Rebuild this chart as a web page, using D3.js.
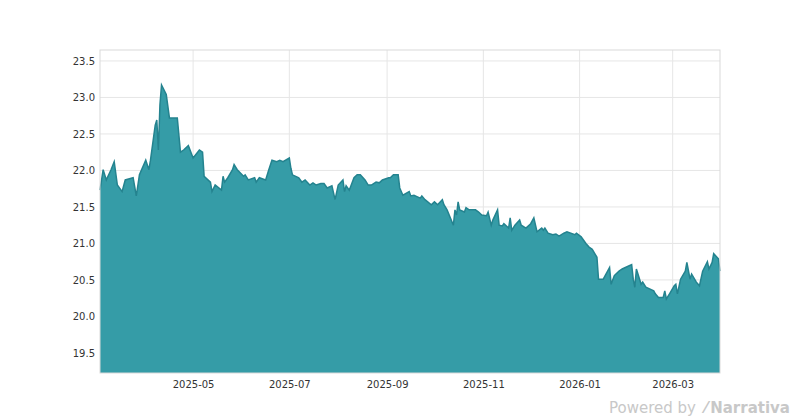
<!DOCTYPE html>
<html><head><meta charset="utf-8">
<script src="https://cdn.jsdelivr.net/npm/d3@7"></script>
<style>body{margin:0;background:#fff}text{font-family:"DejaVu Sans",sans-serif}</style>
</head><body><svg id="c" width="800" height="420"></svg>
<script>
const dates=["2025-03-03","2025-03-05","2025-03-07","2025-03-10","2025-03-12","2025-03-14","2025-03-17","2025-03-19","2025-03-24","2025-03-26","2025-03-28","2025-04-01","2025-04-03","2025-04-04","2025-04-07","2025-04-08","2025-04-09","2025-04-10","2025-04-11","2025-04-14","2025-04-16","2025-04-21","2025-04-23","2025-04-25","2025-04-28","2025-05-01","2025-05-05","2025-05-07","2025-05-08","2025-05-12","2025-05-13","2025-05-15","2025-05-19","2025-05-20","2025-05-21","2025-05-23","2025-05-26","2025-05-27","2025-05-29","2025-06-02","2025-06-03","2025-06-05","2025-06-09","2025-06-10","2025-06-12","2025-06-16","2025-06-18","2025-06-20","2025-06-23","2025-06-25","2025-06-27","2025-07-01","2025-07-02","2025-07-03","2025-07-07","2025-07-09","2025-07-11","2025-07-14","2025-07-16","2025-07-18","2025-07-21","2025-07-23","2025-07-25","2025-07-28","2025-07-30","2025-08-01","2025-08-04","2025-08-05","2025-08-06","2025-08-08","2025-08-11","2025-08-13","2025-08-15","2025-08-18","2025-08-20","2025-08-22","2025-08-25","2025-08-27","2025-08-29","2025-09-02","2025-09-03","2025-09-05","2025-09-08","2025-09-09","2025-09-11","2025-09-15","2025-09-16","2025-09-18","2025-09-22","2025-09-23","2025-09-25","2025-09-29","2025-10-01","2025-10-03","2025-10-06","2025-10-07","2025-10-09","2025-10-13","2025-10-14","2025-10-15","2025-10-16","2025-10-17","2025-10-20","2025-10-21","2025-10-23","2025-10-27","2025-10-29","2025-10-31","2025-11-03","2025-11-04","2025-11-06","2025-11-07","2025-11-10","2025-11-11","2025-11-13","2025-11-14","2025-11-17","2025-11-18","2025-11-19","2025-11-21","2025-11-24","2025-11-25","2025-11-28","2025-12-01","2025-12-03","2025-12-05","2025-12-08","2025-12-09","2025-12-10","2025-12-12","2025-12-15","2025-12-17","2025-12-19","2025-12-22","2025-12-24","2025-12-29","2025-12-30","2026-01-02","2026-01-05","2026-01-07","2026-01-09","2026-01-12","2026-01-13","2026-01-16","2026-01-20","2026-01-21","2026-01-23","2026-01-26","2026-01-28","2026-01-30","2026-02-03","2026-02-04","2026-02-05","2026-02-06","2026-02-09","2026-02-10","2026-02-12","2026-02-17","2026-02-18","2026-02-20","2026-02-23","2026-02-24","2026-02-25","2026-02-27","2026-03-02","2026-03-03","2026-03-04","2026-03-06","2026-03-09","2026-03-10","2026-03-12","2026-03-13","2026-03-16","2026-03-18","2026-03-20","2026-03-23","2026-03-24","2026-03-26","2026-03-27","2026-03-30","2026-03-31"];
const values=[21.73,22.01,21.87,22.01,22.12,21.80,21.71,21.87,21.90,21.65,21.94,22.14,22.01,22.14,22.62,22.69,22.28,22.90,23.17,23.04,22.72,22.72,22.25,22.28,22.34,22.17,22.28,22.25,21.92,21.84,21.71,21.80,21.73,21.92,21.84,21.90,22.01,22.08,22.01,21.92,21.94,21.87,21.90,21.84,21.90,21.87,22.01,22.14,22.12,22.14,22.12,22.17,22.03,21.94,21.90,21.84,21.87,21.80,21.83,21.80,21.82,21.82,21.76,21.79,21.60,21.80,21.87,21.71,21.79,21.73,21.90,21.94,21.94,21.87,21.80,21.80,21.84,21.83,21.87,21.90,21.90,21.94,21.94,21.76,21.66,21.71,21.65,21.66,21.62,21.65,21.60,21.53,21.57,21.53,21.60,21.53,21.46,21.25,21.46,21.39,21.57,21.46,21.43,21.49,21.46,21.46,21.43,21.39,21.38,21.43,21.25,21.32,21.46,21.25,21.24,21.27,21.21,21.35,21.18,21.25,21.32,21.25,21.21,21.27,21.35,21.16,21.21,21.18,21.21,21.14,21.12,21.13,21.10,21.14,21.16,21.12,21.14,21.09,21.00,20.95,20.92,20.81,20.51,20.51,20.67,20.44,20.56,20.62,20.65,20.67,20.71,20.51,20.40,20.65,20.44,20.47,20.40,20.35,20.31,20.26,20.26,20.35,20.24,20.31,20.42,20.44,20.31,20.51,20.62,20.74,20.51,20.58,20.47,20.42,20.62,20.75,20.65,20.74,20.86,20.79,20.62];
const yTicks=[19.5,20.0,20.5,21.0,21.5,22.0,22.5,23.0,23.5];
const xTicks=["2025-05-01","2025-07-01","2025-09-01","2025-11-01","2026-01-01","2026-03-01"];

const p=d3.timeParse("%Y-%m-%d");
const data=dates.map((d,i)=>({d:p(d),v:values[i]}));
const L=100,R=720,T=50,B=373;
const x=d3.scaleTime().domain([p("2025-03-03"),p("2026-03-31")]).range([L,R]);
const y=d3.scaleLinear().domain([19.225,23.65]).range([B,T]);
const svg=d3.select("#c");
const g=svg.append("g");
g.selectAll(".gy").data(yTicks).enter().append("line").attr("x1",L).attr("x2",R).attr("y1",d=>y(d)).attr("y2",d=>y(d)).attr("stroke","#e6e6e6");
g.selectAll(".gx").data(xTicks).enter().append("line").attr("y1",T).attr("y2",B).attr("x1",d=>x(p(d))).attr("x2",d=>x(p(d))).attr("stroke","#e6e6e6");
const area=d3.area().x(d=>x(d.d)).y0(B).y1(d=>y(d.v)).curve(d3.curveLinear);
g.append("path").datum(data).attr("d",area).attr("fill","#359ca7");
g.append("path").datum(data).attr("d",d3.line().x(d=>x(d.d)).y(d=>y(d.v))).attr("fill","none").attr("stroke","#24838f").attr("stroke-width",1.5);
g.append("rect").attr("x",L).attr("y",T).attr("width",R-L).attr("height",B-T).attr("fill","none").attr("stroke","#d9d9d9");
const ya=d3.axisLeft(y).tickValues(yTicks).tickFormat(d3.format(".1f")).tickSize(0).tickPadding(5);
svg.append("g").attr("transform",`translate(${L},0)`).call(ya).call(s=>s.select(".domain").remove()).selectAll("text").attr("fill","#333").attr("font-size",10);
const xa=d3.axisBottom(x).tickValues(xTicks.map(p)).tickFormat(d3.timeFormat("%Y-%m")).tickSize(0).tickPadding(8);
svg.append("g").attr("transform",`translate(0,${B})`).call(xa).call(s=>s.select(".domain").remove()).selectAll("text").attr("fill","#333").attr("font-size",10);
svg.append("text").attr("x",696).attr("y",413).attr("text-anchor","end").attr("font-size",15).attr("fill","#c8c8c8").text("Powered by");
svg.append("text").attr("x",790).attr("y",413).attr("text-anchor","end").attr("font-size",15).attr("font-weight","bold").attr("fill","#c8c8c8").text("⁄\u2009Narrativa");
</script></body></html>
